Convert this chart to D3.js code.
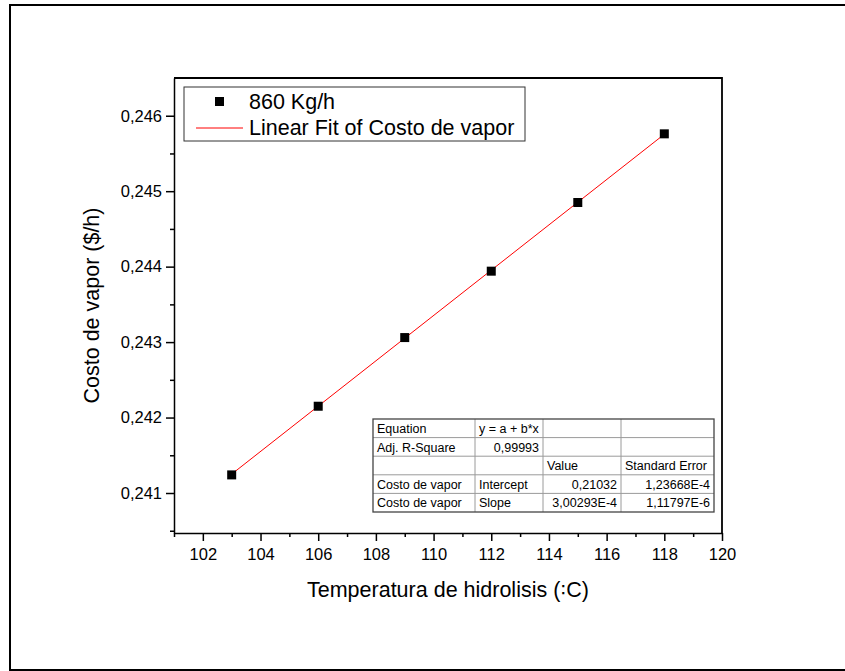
<!DOCTYPE html>
<html>
<head>
<meta charset="utf-8">
<script src="https://cdn.jsdelivr.net/npm/d3@7"></script>
<style>
  body { margin: 0; background: #fff; }
  svg { display: block; }
  text { font-family: "Liberation Sans", Arial, sans-serif; fill: #000; }
</style>
</head>
<body>
<svg id="chart" width="845" height="671"></svg>
<script>
// data
let temps = [103, 106, 109, 112, 115, 118];
let costs = [0.24124, 0.24215, 0.24306, 0.24394, 0.24485, 0.24576];
let fitA = 0.21032, fitB = 3.00293e-4;
let xTicks = [102, 104, 106, 108, 110, 112, 114, 116, 118, 120];
let yTicks = [0.241, 0.242, 0.243, 0.244, 0.245, 0.246];
let legendLabels = ['860 Kg/h', 'Linear Fit of Costo de vapor'];
let tableRows = [
  ['Equation', 'y = a + b*x', '', ''],
  ['Adj. R-Square', '0,99993', '', ''],
  ['', '', 'Value', 'Standard Error'],
  ['Costo de vapor', 'Intercept', '0,21032', '1,23668E-4'],
  ['Costo de vapor', 'Slope', '3,00293E-4', '1,11797E-6']
];

var svg = d3.select('#chart');
var pLeft = 174, pTop = 78, pRight = 722, pBottom = 533;

// outer frame
svg.append('rect').attr('x', 10).attr('y', 5).attr('width', 860).attr('height', 665)
  .attr('fill', 'none').attr('stroke', '#000').attr('stroke-width', 2);

var x = d3.scaleLinear().domain([101, 120]).range([pLeft, pRight]);
var y = d3.scaleLinear().domain([0.24047, 0.24650]).range([pBottom, pTop]);

var fmt = function(d) { return d3.format('.3f')(d).replace('.', ','); };

// minor ticks
svg.append('g').attr('transform', 'translate(0,' + pBottom + ')')
  .call(d3.axisBottom(x).tickValues(d3.range(101, 120, 2)).tickSize(4).tickFormat(''))
  .call(g => g.select('.domain').remove())
  .selectAll('line').attr('stroke-width', 1.5);
svg.append('g').attr('transform', 'translate(' + pLeft + ',0)')
  .call(d3.axisLeft(y).tickValues([0.2405, 0.2415, 0.2425, 0.2435, 0.2445, 0.2455]).tickSize(4).tickFormat(''))
  .call(g => g.select('.domain').remove())
  .selectAll('line').attr('stroke-width', 1.5);

// major axes
var xAxis = svg.append('g').attr('transform', 'translate(0,' + pBottom + ')')
  .call(d3.axisBottom(x).tickValues(xTicks).tickSize(8).tickSizeOuter(0).tickPadding(7));
var yAxis = svg.append('g').attr('transform', 'translate(' + pLeft + ',0)')
  .call(d3.axisLeft(y).tickValues(yTicks).tickSize(8).tickSizeOuter(0).tickPadding(4).tickFormat(fmt));
[xAxis, yAxis].forEach(function(g) {
  g.selectAll('text').attr('font-size', 16.5).attr('font-family', '"Liberation Sans", Arial, sans-serif').attr('fill', '#000');
  g.selectAll('line').attr('stroke-width', 1.5);
  g.select('.domain').attr('stroke-width', 1.5);
});

// top and right frame
svg.append('path')
  .attr('d', 'M' + pLeft + ',' + pTop + 'H' + pRight + 'V' + pBottom)
  .attr('fill', 'none').attr('stroke', '#000').attr('stroke-width', 1.8);

// fit line
svg.append('line')
  .attr('x1', x(temps[0])).attr('y1', y(fitA + fitB * temps[0]))
  .attr('x2', x(temps[temps.length - 1])).attr('y2', y(fitA + fitB * temps[temps.length - 1]))
  .attr('stroke', '#ff0000').attr('stroke-width', 1);

// points
svg.selectAll('.pt').data(temps).enter().append('rect')
  .attr('class', 'pt')
  .attr('x', function(d) { return x(d) - 4.5; })
  .attr('y', function(d, i) { return y(costs[i]) - 4.5; })
  .attr('width', 9).attr('height', 9).attr('fill', '#000');

// legend
var lg = svg.append('g');
lg.append('rect').attr('x', 184).attr('y', 87).attr('width', 341).attr('height', 54)
  .attr('fill', '#fff').attr('stroke', '#333').attr('stroke-width', 1);
lg.append('rect').attr('x', 215).attr('y', 97).attr('width', 9).attr('height', 9).attr('fill', '#000');
lg.append('line').attr('x1', 196).attr('x2', 243).attr('y1', 128).attr('y2', 128)
  .attr('stroke', '#ff0000').attr('stroke-width', 1);
lg.selectAll('text').data(legendLabels).enter().append('text')
  .attr('x', 249).attr('y', function(d, i) { return 109 + i * 26; })
  .attr('font-size', 21.5).text(function(d) { return d; });

// fit table
var colX = [373, 475, 543, 621, 714];
var rowY = [419, 437.6, 456.2, 474.8, 493.4, 512];
var tb = svg.append('g');
tb.append('rect').attr('x', colX[0]).attr('y', rowY[0])
  .attr('width', colX[4] - colX[0]).attr('height', rowY[5] - rowY[0]).attr('fill', '#fff');
rowY.slice(1, 5).forEach(function(ry) {
  tb.append('line').attr('x1', colX[0]).attr('x2', colX[4]).attr('y1', ry).attr('y2', ry)
    .attr('stroke', '#9a9a9a').attr('stroke-width', 1);
});
colX.slice(1, 4).forEach(function(cx) {
  tb.append('line').attr('x1', cx).attr('x2', cx).attr('y1', rowY[0]).attr('y2', rowY[5])
    .attr('stroke', '#9a9a9a').attr('stroke-width', 1);
});
tb.append('rect').attr('x', colX[0]).attr('y', rowY[0])
  .attr('width', colX[4] - colX[0]).attr('height', rowY[5] - rowY[0])
  .attr('fill', 'none').attr('stroke', '#444').attr('stroke-width', 1.3);
tableRows.forEach(function(row, r) {
  row.forEach(function(cell, c) {
    if (!cell) return;
    var rightAlign = (r === 1 && c === 1) || (r >= 3 && c >= 2);
    tb.append('text')
      .attr('x', rightAlign ? colX[c + 1] - 4 : colX[c] + 4)
      .attr('y', rowY[r] + 14)
      .attr('text-anchor', rightAlign ? 'end' : 'start')
      .attr('font-size', 12.5).text(cell);
  });
});

// axis titles
svg.append('text').attr('x', (pLeft + pRight) / 2).attr('y', 597)
  .attr('text-anchor', 'middle').attr('font-size', 21.5)
  .text('Temperatura de hidrolisis (\uA789C)');
svg.append('text').attr('transform', 'translate(99,' + ((pTop + pBottom) / 2) + ') rotate(-90)')
  .attr('text-anchor', 'middle').attr('font-size', 21.5)
  .text('Costo de vapor ($/h)');
</script>
</body>
</html>
